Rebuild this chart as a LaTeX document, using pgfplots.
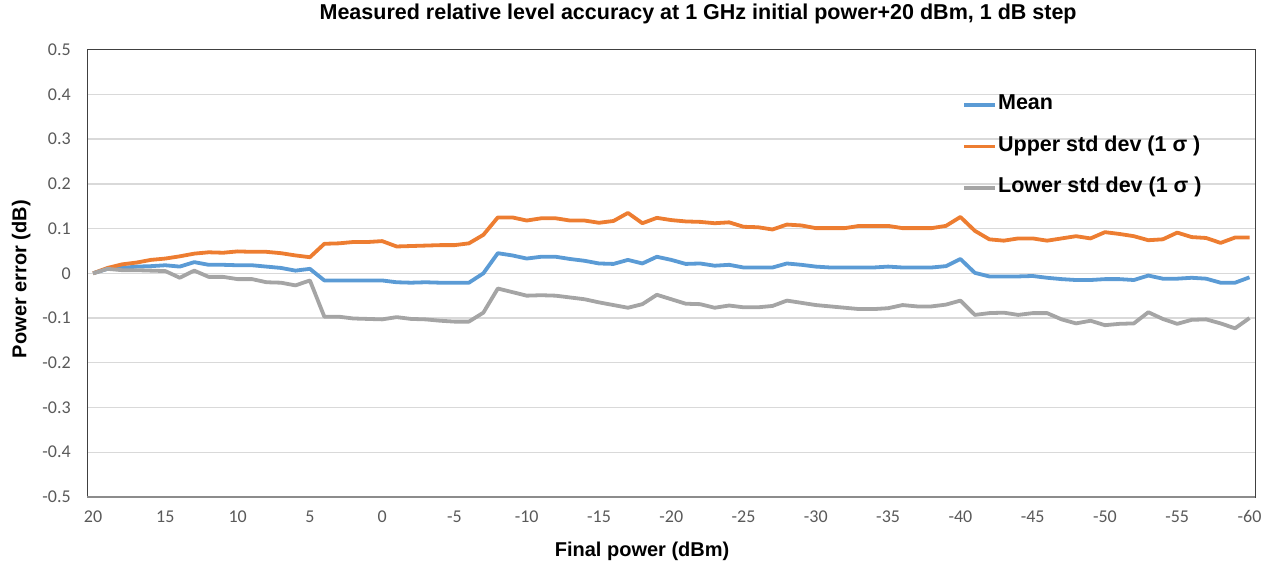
\documentclass[border=0pt]{standalone}
\usepackage{fontspec}
\setmainfont{Liberation Sans}
\newfontfamily\calibri{Carlito}
\usepackage{pgfplots}
\usepackage{pgfplotstable}
\pgfplotsset{compat=1.18}

\definecolor{meanblue}{HTML}{5B9BD5}
\definecolor{upperorange}{HTML}{ED7D31}
\definecolor{lowergray}{HTML}{A5A5A5}
\definecolor{ticktext}{HTML}{595959}
\definecolor{gridgray}{HTML}{D9D9D9}

% final power (dBm), mean, upper (+1 sigma), lower (-1 sigma)
\pgfplotstableread{
x mean upper lower
20 0 0 0
19 0.010 0.012 0.010
18 0.012 0.020 0.007
17 0.015 0.024 0.007
16 0.016 0.030 0.006
15 0.018 0.033 0.005
14 0.015 0.038 -0.010
13 0.025 0.044 0.006
12 0.019 0.047 -0.008
11 0.019 0.046 -0.008
10 0.018 0.049 -0.013
9 0.018 0.048 -0.013
8 0.015 0.048 -0.020
7 0.012 0.045 -0.021
6 0.006 0.040 -0.027
5 0.010 0.036 -0.016
4 -0.016 0.066 -0.097
3 -0.016 0.067 -0.097
2 -0.016 0.070 -0.101
1 -0.016 0.070 -0.102
0 -0.016 0.072 -0.103
-1 -0.020 0.060 -0.098
-2 -0.021 0.061 -0.102
-3 -0.020 0.062 -0.103
-4 -0.021 0.063 -0.106
-5 -0.021 0.063 -0.108
-6 -0.021 0.067 -0.108
-7 0.000 0.086 -0.088
-8 0.045 0.125 -0.034
-9 0.040 0.125 -0.042
-10 0.033 0.118 -0.050
-11 0.037 0.123 -0.049
-12 0.037 0.123 -0.050
-13 0.032 0.118 -0.054
-14 0.028 0.118 -0.058
-15 0.022 0.113 -0.065
-16 0.021 0.117 -0.071
-17 0.030 0.135 -0.077
-18 0.022 0.112 -0.069
-19 0.037 0.124 -0.048
-20 0.030 0.119 -0.058
-21 0.021 0.116 -0.068
-22 0.022 0.115 -0.069
-23 0.017 0.112 -0.077
-24 0.019 0.114 -0.072
-25 0.013 0.104 -0.076
-26 0.013 0.103 -0.076
-27 0.013 0.098 -0.073
-28 0.022 0.109 -0.061
-29 0.019 0.107 -0.066
-30 0.015 0.101 -0.071
-31 0.013 0.101 -0.074
-32 0.013 0.101 -0.077
-33 0.013 0.106 -0.080
-34 0.013 0.106 -0.080
-35 0.015 0.106 -0.078
-36 0.013 0.101 -0.071
-37 0.013 0.101 -0.074
-38 0.013 0.101 -0.074
-39 0.016 0.106 -0.070
-40 0.032 0.126 -0.061
-41 0.001 0.095 -0.093
-42 -0.007 0.076 -0.089
-43 -0.007 0.073 -0.088
-44 -0.007 0.078 -0.093
-45 -0.006 0.078 -0.089
-46 -0.010 0.073 -0.089
-47 -0.013 0.078 -0.103
-48 -0.015 0.083 -0.112
-49 -0.015 0.078 -0.106
-50 -0.013 0.092 -0.116
-51 -0.013 0.088 -0.113
-52 -0.015 0.083 -0.112
-53 -0.005 0.074 -0.087
-54 -0.012 0.076 -0.102
-55 -0.012 0.091 -0.113
-56 -0.010 0.081 -0.104
-57 -0.012 0.079 -0.103
-58 -0.021 0.068 -0.112
-59 -0.021 0.080 -0.123
-60 -0.009 0.080 -0.100
}\accdata

\begin{document}
\begin{tikzpicture}
\begin{axis}[
  name=ax,
  scale only axis,
  width=1168pt, height=447.2pt,
  x dir=reverse,
  xmin=-60.4, xmax=20.4,
  ymin=-0.5, ymax=0.5,
  xtick={-60,-55,...,20},
  ytick={-0.5,-0.4,...,0.5},
  major tick length=0pt,
  ymajorgrids,
  grid style={gridgray, line width=1.3pt},
  axis line style={black!75, line width=0.8pt},
  /pgf/number format/assume math mode=true,
  /pgf/number format/fixed,
  /pgf/number format/precision=1,
  tick label style={font=\fontsize{18}{18}\selectfont\calibri, text=ticktext},
  yticklabel style={xshift=-13pt},
  xticklabel style={yshift=-10pt},
  title={Measured relative level accuracy at 1 GHz initial power+20 dBm, 1 dB step},
  title style={font=\fontsize{21.5}{23}\selectfont\bfseries, at={(rel axis cs:0.523,1.066)}, anchor=center, yshift=0pt},
  xlabel={Final power (dBm)},
  xlabel style={font=\fontsize{20}{22}\selectfont\bfseries, at={(rel axis cs:0.475,-0.121)}, anchor=center},
  ylabel={Power error (dB)},
  ylabel style={font=\fontsize{20}{22}\selectfont\bfseries, at={(rel axis cs:-0.0565,0.487)}, anchor=center},
  legend cell align=left,
  legend style={draw=none, fill=none, at={(rel axis cs:0.749,0.9015)}, anchor=north west,
    inner sep=0pt, row sep=19.5pt,
    font=\fontsize{21.5}{23}\selectfont\bfseries,
    nodes={inner sep=1pt, text height=15pt, text depth=5pt}},
  legend image code/.code={\draw[#1] (0pt,0pt) -- (31pt,0pt);},
  clip=false,
]
\addplot[meanblue, line width=3.8pt, line join=round] table[x=x, y=mean] {\accdata};
\addlegendentry{Mean}
\addplot[upperorange, line width=3.8pt, line join=round] table[x=x, y=upper] {\accdata};
\addlegendentry{Upper std dev (1 σ )}
\addplot[lowergray, line width=3.8pt, line join=round] table[x=x, y=lower] {\accdata};
\addlegendentry{Lower std dev (1 σ )}
\draw[black!45, line width=1.6pt] (rel axis cs:0,0) -- (rel axis cs:1,0);
\end{axis}
\pgfresetboundingbox
\path ([shift={(-87.3pt,-63.1pt)}]ax.south west) rectangle ([shift={(15.7pt,49.7pt)}]ax.north east);
\end{tikzpicture}
\end{document}
